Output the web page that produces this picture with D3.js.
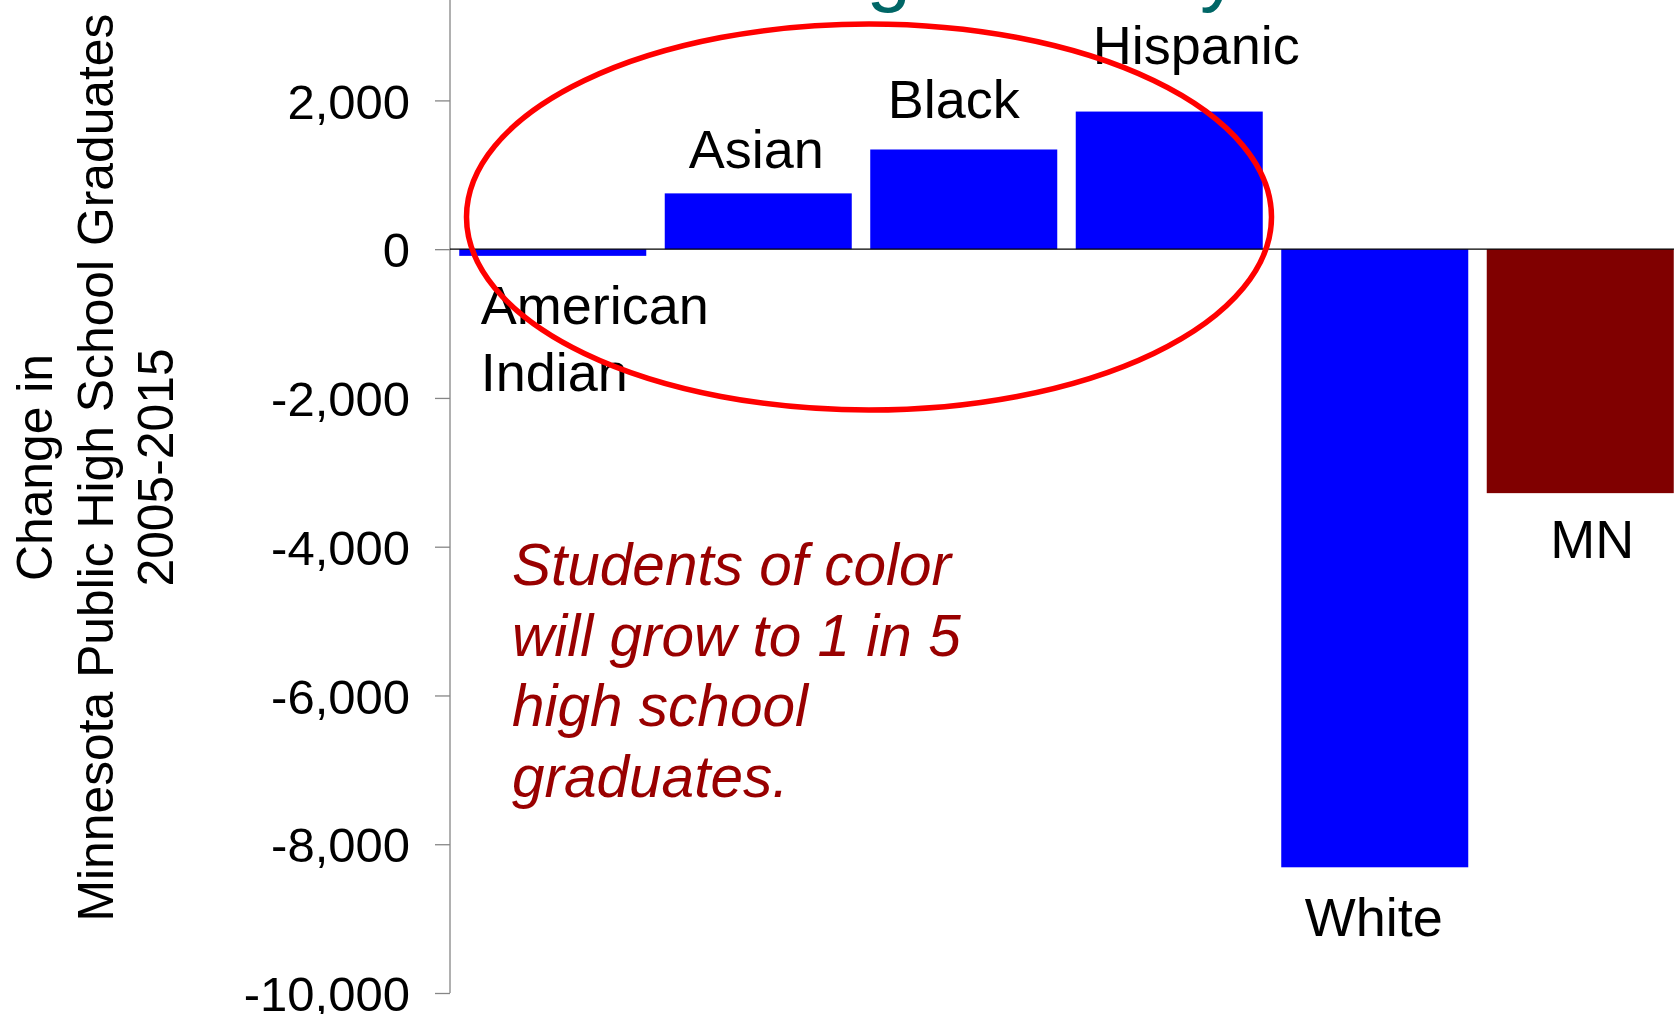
<!DOCTYPE html>
<html>
<head>
<meta charset="utf-8">
<script src="https://cdn.jsdelivr.net/npm/d3@7"></script>
<style>
  html, body { margin: 0; padding: 0; background: #fff; }
  svg { display: block; }
  text { font-family: "Liberation Sans", Arial, sans-serif; }
</style>
</head>
<body>
<svg id="chart" width="1674" height="1014"></svg>
<script>
// ---- data ----
const categories = ["American Indian", "Asian", "Black", "Hispanic", "White", "MN"];
const labelLines = [["American", "Indian"], ["Asian"], ["Black"], ["Hispanic"], ["White"], ["MN"]];
const changeValues = [-90, 750, 1340, 1850, -8310, -3280];
const barColors = ["#0000FF", "#0000FF", "#0000FF", "#0000FF", "#0000FF", "#800000"];
const yTickValues = [2000, 0, -2000, -4000, -6000, -8000, -10000];
const yTickLabels = ["2,000", "0", "-2,000", "-4,000", "-6,000", "-8,000", "-10,000"];
const yTitleLines = ["Change in", "Minnesota Public High School Graduates", "2005-2015"];
const noteLines = ["Students of color", "will grow to 1 in 5", "high school", "graduates."];
const titleText = "Growing Diversity";

// ---- layout (kept separate from data) ----
const W = 1674, H = 1014;
const axisX = 450, plotRight = 1683;
// label placement relative to each bar's centre (dx) and end (dy, baseline)
const labelLayout = [
  {anchor: "start", dx: -72, dy: 68, lh: 67},
  {anchor: "middle", dx: -2, dy: -25},
  {anchor: "middle", dx: -10, dy: -31},
  {anchor: "middle", dx: 27, dy: -48},
  {anchor: "middle", dx: -1, dy: 69},
  {anchor: "middle", dx: 12, dy: 65}
];

const svg = d3.select("#chart");
svg.append("rect").attr("width", W).attr("height", H).attr("fill", "#fff");

const y = d3.scaleLinear().domain([-10000, 2000]).range([993, 100.4]);
const x = d3.scaleBand().domain(categories).range([axisX, plotRight])
  .paddingInner(0.09).paddingOuter(0.045);

// title fragment (mostly above the visible area)
svg.append("text")
  .attr("x", 1240).attr("y", -4)
  .attr("text-anchor", "end")
  .attr("font-size", 80)
  .attr("fill", "#006666")
  .text(titleText);

// y axis
const yAxis = d3.axisLeft(y)
  .tickValues(yTickValues)
  .tickSize(15)
  .tickPadding(25)
  .tickFormat((d, i) => yTickLabels[i]);
const gAxis = svg.append("g").attr("transform", `translate(${axisX},0)`).call(yAxis);
gAxis.select(".domain").remove();
gAxis.selectAll(".tick line").attr("stroke", "#868686").attr("stroke-width", 1.3);
gAxis.selectAll(".tick text")
  .attr("font-size", 49)
  .attr("fill", "#000")
  .attr("dy", "0.36em")
  .style("font-family", '"Liberation Sans", Arial, sans-serif');
svg.append("line")
  .attr("x1", axisX).attr("x2", axisX)
  .attr("y1", 0).attr("y2", y(-10000))
  .attr("stroke", "#868686").attr("stroke-width", 1.3);

// bars
svg.append("g").selectAll("rect")
  .data(categories)
  .join("rect")
  .attr("x", d => x(d))
  .attr("width", x.bandwidth())
  .attr("y", (d, i) => Math.min(y(0), y(changeValues[i])))
  .attr("height", (d, i) => Math.abs(y(changeValues[i]) - y(0)))
  .attr("fill", (d, i) => barColors[i]);

// zero baseline
svg.append("line")
  .attr("x1", axisX).attr("x2", W)
  .attr("y1", y(0)).attr("y2", y(0))
  .attr("stroke", "#000").attr("stroke-width", 1.3);

// category labels
const gLab = svg.append("g");
categories.forEach((c, i) => {
  const L = labelLayout[i];
  const cx = x(c) + x.bandwidth() / 2 + L.dx;
  const by = y(changeValues[i]) + L.dy;
  const t = gLab.append("text")
    .attr("x", cx).attr("y", by)
    .attr("text-anchor", L.anchor)
    .attr("font-size", 54)
    .attr("fill", "#000");
  labelLines[i].forEach((ln, j) => {
    t.append("tspan").attr("x", cx).attr("y", by + j * (L.lh || 0)).text(ln);
  });
});

// annotation
const note = svg.append("text")
  .attr("font-size", 58.5)
  .attr("font-style", "italic")
  .attr("fill", "#990000");
noteLines.forEach((ln, j) => {
  note.append("tspan").attr("x", 512).attr("y", 585 + j * 70.6).text(ln);
});

// y-axis title (rotated)
const yt = svg.append("text")
  .attr("transform", "translate(0,467.5) rotate(-90)")
  .attr("text-anchor", "middle")
  .attr("font-size", 49.8)
  .attr("fill", "#000");
yTitleLines.forEach((ln, j) => {
  yt.append("tspan").attr("x", 0).attr("y", 52 + j * 60.5).text(ln);
});

// highlight ellipse
svg.append("ellipse")
  .attr("cx", 869).attr("cy", 217)
  .attr("rx", 402.5).attr("ry", 193)
  .attr("fill", "none")
  .attr("stroke", "#FF0000")
  .attr("stroke-width", 5.5);
</script>
</body>
</html>
